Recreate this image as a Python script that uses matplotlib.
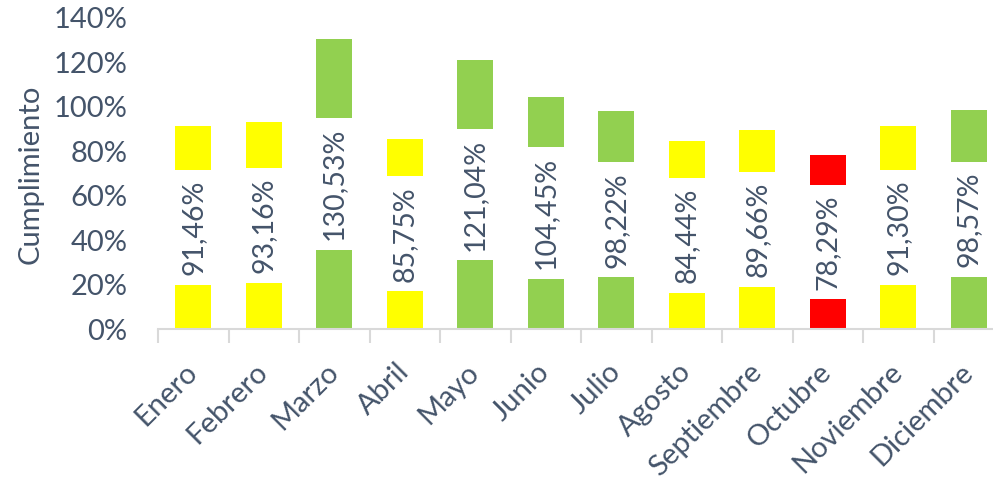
import matplotlib
matplotlib.use("Agg")
import matplotlib.pyplot as plt
from matplotlib.ticker import FixedLocator

# datos de cumplimiento mensual (%)
meses = ["Enero", "Febrero", "Marzo", "Abril", "Mayo", "Junio", "Julio",
         "Agosto", "Septiembre", "Octubre", "Noviembre", "Diciembre"]
cumplimiento = [91.46, 93.16, 130.53, 85.75, 121.04, 104.45, 98.22,
                84.44, 89.66, 78.29, 91.30, 98.57]
colores = ["#FFFF00", "#FFFF00", "#92D050", "#FFFF00", "#92D050", "#92D050",
           "#92D050", "#FFFF00", "#FFFF00", "#FF0000", "#FFFF00", "#92D050"]
yticks = [0, 20, 40, 60, 80, 100, 120, 140]

plt.rcParams['font.family'] = ['Lato', 'DejaVu Sans']
texto = "#44546A"
fs = 21

fig = plt.figure(figsize=(9.93, 4.79), dpi=100)
ax = fig.add_axes([158 / 993, 150 / 479, 846 / 993, 311 / 479])

x = range(len(meses))
ax.bar(x, cumplimiento, width=0.51, color=colores, zorder=2)

# etiquetas de datos centradas en la barra, con fondo blanco
for i, v in enumerate(cumplimiento):
    etiqueta = f"{v:.2f}".replace(".", ",") + "%"
    ax.text(i, v / 2, etiqueta, rotation=90, ha="center", va="center",
            fontsize=20.5, color=texto, zorder=3,
            bbox=dict(boxstyle="square,pad=0.34", fc="white", ec="none"))

ax.set_xlim(-0.5, len(meses) - 0.5)
ax.set_ylim(0, 140)
ax.set_yticks(yticks)
ax.set_yticklabels([f"{t}%" for t in yticks])
ax.tick_params(axis="y", length=0, pad=22, labelsize=fs, labelcolor=texto)

ax.set_xticks(list(x))
ax.set_xticklabels(meses, rotation=45, ha="right", va="center",
                   rotation_mode="anchor")
ax.tick_params(axis="x", which="major", length=0, pad=28, labelsize=fs,
               labelcolor=texto)
ax.xaxis.set_minor_locator(FixedLocator([i - 0.5 for i in range(len(meses) + 1)]))
ax.tick_params(axis="x", which="minor", length=10, width=1.5, color="#D9D9D9")

for lado in ["left", "right", "top"]:
    ax.spines[lado].set_visible(False)
ax.spines["bottom"].set_color("#D9D9D9")
ax.spines["bottom"].set_linewidth(1.5)

fig.text(31 / 993, 1 - 174 / 479, "Cumplimiento", rotation=90, ha="center",
         va="center", fontsize=fs, color=texto)

fig.savefig("out.png", dpi=100)
